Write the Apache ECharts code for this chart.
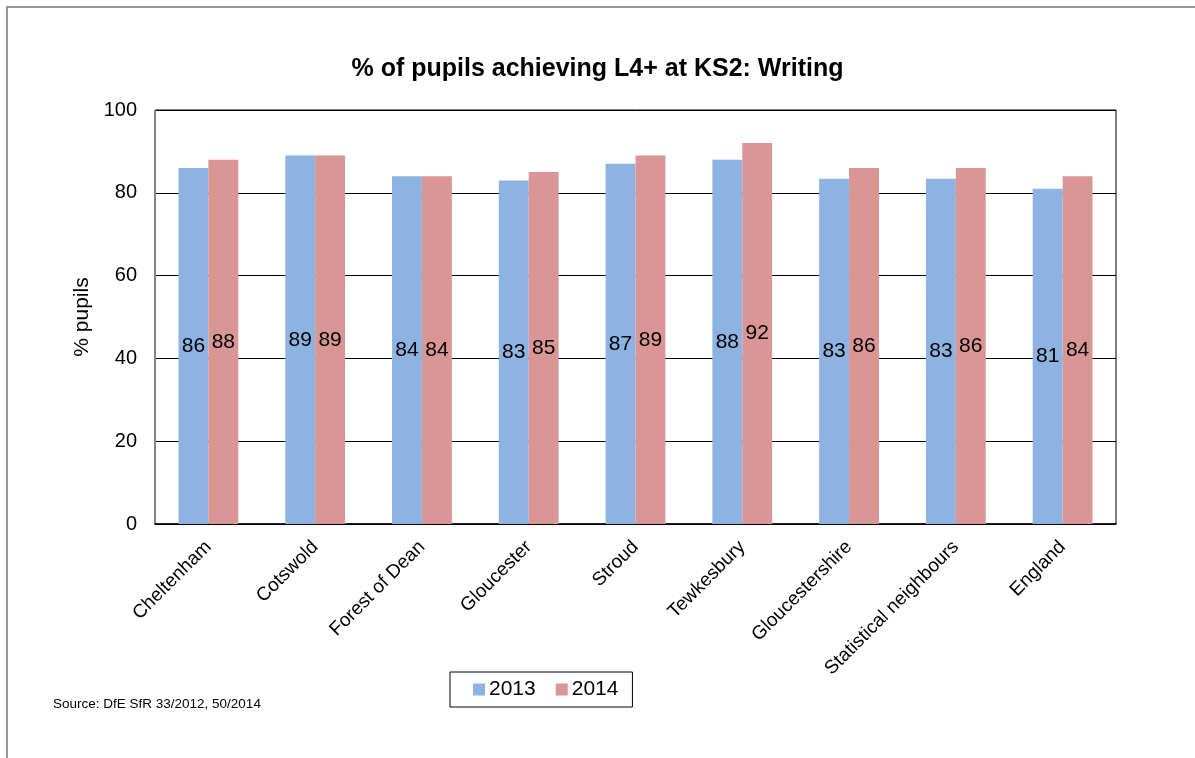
<!DOCTYPE html>
<html>
<head>
<meta charset="utf-8">
<script src="https://cdn.jsdelivr.net/npm/echarts@6/dist/echarts.min.js"></script>
<style>
  html, body { margin: 0; padding: 0; background: #fff; }
  #chart { width: 1195px; height: 758px; }
</style>
</head>
<body>
<div id="chart"></div>
<script>
// categories and values
var areas = ['Cheltenham', 'Cotswold', 'Forest of Dean', 'Gloucester', 'Stroud',
  'Tewkesbury', 'Gloucestershire', 'Statistical neighbours', 'England'];
var y2013 = [86, 89, 84, 83, 87, 88, 83.4, 83.4, 81];
var y2014 = [88, 89, 84, 85, 89, 92, 86, 86, 84];
var yTicks = [0, 20, 40, 60, 80, 100];

var font = 'Liberation Sans, Arial, sans-serif';

function barLabel() {
  return {
    show: true,
    position: 'inside',
    color: '#000',
    fontSize: 21,
    fontFamily: font,
    formatter: function (p) { return Math.round(p.value); }
  };
}

var chart = echarts.init(document.getElementById('chart'));
chart.setOption({
  animation: false,
  backgroundColor: '#fff',
  title: {
    text: '% of pupils achieving L4+ at KS2: Writing',
    left: 'center',
    top: 52,
    textStyle: { fontFamily: font, fontSize: 25, fontWeight: 'bold', color: '#000' }
  },
  grid: {
    left: 155, right: 79, top: 110, bottom: 234,
    show: true, borderColor: '#000', borderWidth: 1
  },
  legend: {
    data: ['2013', '2014'],
    left: 450, top: 672,
    itemWidth: 12, itemHeight: 12, itemGap: 20,
    padding: [7, 14, 7, 23],
    borderColor: '#000', borderWidth: 1,
    icon: 'rect',
    textStyle: { fontFamily: font, fontSize: 21, color: '#000', padding: [0, 0, 0, -1] }
  },
  xAxis: {
    type: 'category',
    data: areas,
    axisLine: { lineStyle: { color: '#000', width: 1.5 } },
    axisTick: { show: false },
    axisLabel: {
      rotate: 45, margin: 20, interval: 0,
      fontFamily: font, fontSize: 19, color: '#000'
    }
  },
  yAxis: {
    type: 'value',
    min: yTicks[0], max: yTicks[yTicks.length - 1], interval: 20,
    name: '% pupils',
    nameLocation: 'middle',
    nameGap: 56,
    nameTextStyle: { fontFamily: font, fontSize: 21, color: '#000' },
    axisLine: { show: true, lineStyle: { color: '#888' } },
    axisTick: { show: false },
    axisLabel: { margin: 18, fontFamily: font, fontSize: 20, color: '#000' },
    splitLine: { lineStyle: { color: '#000', width: 1 } }
  },
  series: [
    {
      name: '2013', type: 'bar', data: y2013,
      barGap: '0%', barCategoryGap: '44%',
      itemStyle: { color: '#8db3e2' },
      label: barLabel()
    },
    {
      name: '2014', type: 'bar', data: y2014,
      itemStyle: { color: '#d99694' },
      label: barLabel()
    }
  ],
  graphic: [
    {
      type: 'rect',
      shape: { x: 7, y: 7, width: 1300, height: 900 },
      style: { fill: 'none', stroke: '#999', lineWidth: 2 },
      silent: true
    },
    {
      type: 'text',
      left: 53, top: 697,
      style: { text: 'Source: DfE SfR 33/2012, 50/2014', font: '13.5px ' + font, fill: '#000' }
    }
  ]
});
</script>
</body>
</html>
